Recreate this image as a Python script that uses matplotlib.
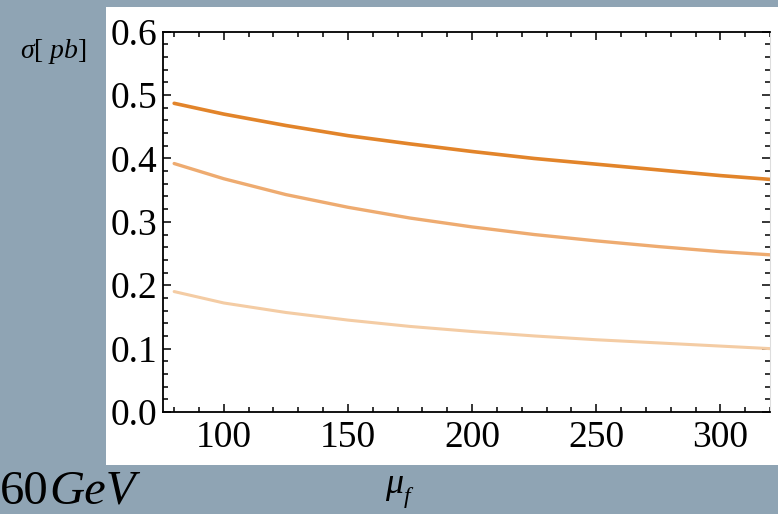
import matplotlib
matplotlib.use('Agg')
import matplotlib.pyplot as plt
from matplotlib.ticker import MultipleLocator, FormatStrFormatter

# 1) Data ===
mu_f = [80, 100, 125, 150, 175, 200, 225, 250, 275, 300, 320]
sigma_top = [0.487, 0.470, 0.452, 0.436, 0.423, 0.411, 0.400, 0.391, 0.382, 0.373, 0.367]
sigma_mid = [0.392, 0.368, 0.343, 0.323, 0.306, 0.292, 0.280, 0.270, 0.261, 0.253, 0.248]
sigma_low = [0.190, 0.172, 0.157, 0.145, 0.135, 0.127, 0.120, 0.114, 0.109, 0.104, 0.100]

# 2) Style ===
plt.rcParams['font.family'] = ['Liberation Serif', 'DejaVu Serif']
plt.rcParams['mathtext.fontset'] = 'custom'
plt.rcParams['mathtext.rm'] = 'Liberation Serif'
plt.rcParams['mathtext.it'] = 'Liberation Serif:italic'

W, H = 778, 514
bg = '#8fa4b4'
fig = plt.figure(figsize=(W / 100, H / 100), dpi=100, facecolor=bg)

# white panel behind the plot
panel = fig.add_axes([106 / W, (H - 465) / H, (W - 106) / W, (465 - 7) / H], zorder=-1)
panel.set_facecolor('white')
panel.set_xticks([]); panel.set_yticks([])
for s in panel.spines.values():
    s.set_visible(False)

ax = fig.add_axes([163 / W, (H - 412) / H, (770 - 163) / W, (412 - 31.7) / H])
ax.set_facecolor('white')

# 3) Curves ===
ax.plot(mu_f, sigma_top, color='#e2842a', lw=2.6, solid_capstyle='round')
ax.plot(mu_f, sigma_mid, color='#eeab70', lw=2.4, solid_capstyle='round')
ax.plot(mu_f, sigma_low, color='#f4cca4', lw=2.2, solid_capstyle='round')

# 4) Axes ===
ax.set_xlim(75.5, 320)
ax.set_ylim(0, 0.6)
ax.xaxis.set_major_locator(MultipleLocator(50))
ax.xaxis.set_minor_locator(MultipleLocator(10))
ax.yaxis.set_major_locator(MultipleLocator(0.1))
ax.yaxis.set_minor_locator(MultipleLocator(0.02))
ax.yaxis.set_major_formatter(FormatStrFormatter('%.1f'))
ax.tick_params(which='both', direction='in', top=True, right=True, width=1.1,
               labelsize=27, colors='black')
ax.tick_params(which='major', length=5.5)
ax.tick_params(which='minor', length=3.5)
ax.tick_params(axis='x', pad=6)
ax.tick_params(axis='y', pad=4)
for s in ['left', 'bottom', 'top']:
    ax.spines[s].set_linewidth(1.3)
ax.spines['right'].set_color('#dddddd')

# 5) Labels on the grey background ===
fig.text(20 / W, 1 - 58 / H, r'$\sigma[\ pb]$', fontsize=20, va='baseline')
fig.text(385 / W, 1 - 493 / H, 'μ', fontsize=26, style='italic', va='baseline')
fig.text(404 / W, 1 - 503 / H, 'f', fontsize=17, style='italic', va='baseline')
fig.text(0 / W, 0, '60', fontsize=35, va='bottom')
fig.text(49 / W, 0, 'GeV', fontsize=35, style='italic', va='bottom')

fig.savefig('out.png', dpi=100, facecolor=bg)
